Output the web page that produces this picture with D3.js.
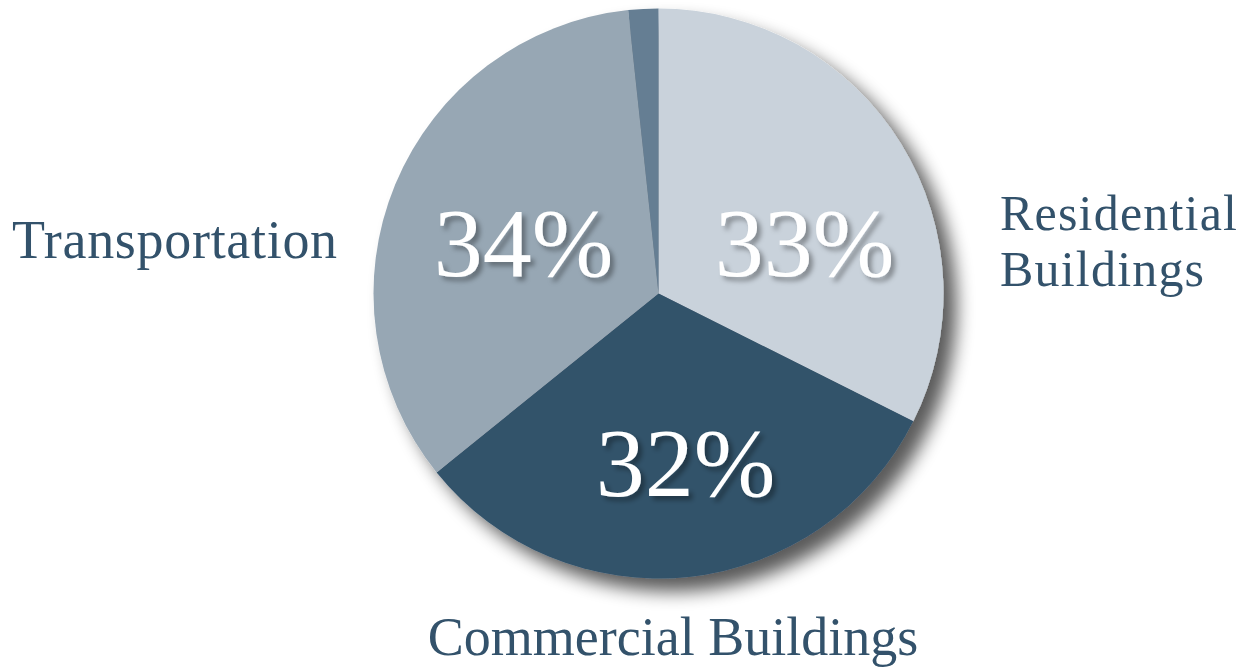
<!DOCTYPE html>
<html>
<head>
<meta charset="utf-8">
<script src="https://cdn.jsdelivr.net/npm/d3@7"></script>
<style>
  body { margin: 0; background: #fff; }
  svg { display: block; }
</style>
</head>
<body>
<div id="chart"></div>
<script>
// data
var categories = ["Residential Buildings", "Commercial Buildings", "Transportation", "Other"];
var shares = [32.4, 31.8, 34.1, 1.7];        // slice size
var pctLabels = ["33%", "32%", "34%", ""];   // printed labels
var colors = ["#c9d2db", "#32526b", "#97a7b4", "#657e93"];

var W = 1255, H = 669;
var cx = 658.5, cy = 293.5, R = 285;
var serif = "'Palatino Linotype', 'Book Antiqua', Palatino, 'Liberation Serif', serif";

var svg = d3.select("#chart").append("svg")
  .attr("width", W)
  .attr("height", H);

var defs = svg.append("defs");

// drop shadow for the pie
var f = defs.append("filter").attr("id", "pieShadow")
  .attr("x", "-20%").attr("y", "-20%").attr("width", "140%").attr("height", "140%");
f.append("feGaussianBlur").attr("in", "SourceAlpha").attr("stdDeviation", 9).attr("result", "b");
f.append("feOffset").attr("in", "b").attr("dx", 13).attr("dy", 13).attr("result", "o");
f.append("feComponentTransfer").attr("in", "o").attr("result", "s")
  .append("feFuncA").attr("type", "linear").attr("slope", 0.65);
var fm = f.append("feMerge");
fm.append("feMergeNode").attr("in", "s");
fm.append("feMergeNode").attr("in", "SourceGraphic");

// small shadow for the white numbers
var t = defs.append("filter").attr("id", "txtShadow")
  .attr("x", "-20%").attr("y", "-20%").attr("width", "140%").attr("height", "140%");
t.append("feGaussianBlur").attr("in", "SourceAlpha").attr("stdDeviation", 2.5).attr("result", "b");
t.append("feOffset").attr("in", "b").attr("dx", 4).attr("dy", 4).attr("result", "o");
t.append("feFlood").attr("flood-color", "#000").attr("flood-opacity", 0.35).attr("result", "c");
t.append("feComposite").attr("in", "c").attr("in2", "o").attr("operator", "in").attr("result", "s");
var tm = t.append("feMerge");
tm.append("feMergeNode").attr("in", "s");
tm.append("feMergeNode").attr("in", "SourceGraphic");

var data = categories.map(function(c, i) {
  return { name: c, value: shares[i], pct: pctLabels[i], color: colors[i] };
});

var pie = d3.pie().sort(null).value(function(d) { return d.value; });
var arc = d3.arc().innerRadius(0).outerRadius(R);

var g = svg.append("g").attr("transform", "translate(" + cx + "," + cy + ")");

g.append("g").attr("filter", "url(#pieShadow)")
  .selectAll("path")
  .data(pie(data))
  .enter().append("path")
    .attr("d", arc)
    .attr("fill", function(d) { return d.data.color; });

// percent numbers
var pctPos = [[146, -18], [27, 202], [-135, -18]];
g.selectAll("text.pct")
  .data(pie(data).filter(function(d) { return d.data.pct; }))
  .enter().append("text")
    .attr("class", "pct")
    .attr("x", function(d, i) { return pctPos[i][0]; })
    .attr("y", function(d, i) { return pctPos[i][1]; })
    .attr("text-anchor", "middle")
    .attr("filter", "url(#txtShadow)")
    .style("font-family", serif)
    .style("font-size", "98px")
    .style("fill", "#fff")
    .text(function(d) { return d.data.pct; });

// category labels
var lab = svg.append("g")
  .style("font-family", serif)
  .style("font-size", "54px")
  .style("fill", "#33526b");

// two lines, slightly smaller so the line boxes don't collide
var res = lab.append("text").attr("x", 1000).attr("y", 230)
  .style("font-size", "50px").style("letter-spacing", "1.2px");
res.append("tspan").attr("x", 1000).text("Residential");
res.append("tspan").attr("x", 1000).attr("dy", 56).text("Buildings");
lab.append("text").attr("x", 12).attr("y", 258)
  .style("letter-spacing", "0.7px").text("Transportation");
lab.append("text").attr("x", 673).attr("y", 655).attr("text-anchor", "middle").text("Commercial Buildings");
</script>
</body>
</html>
